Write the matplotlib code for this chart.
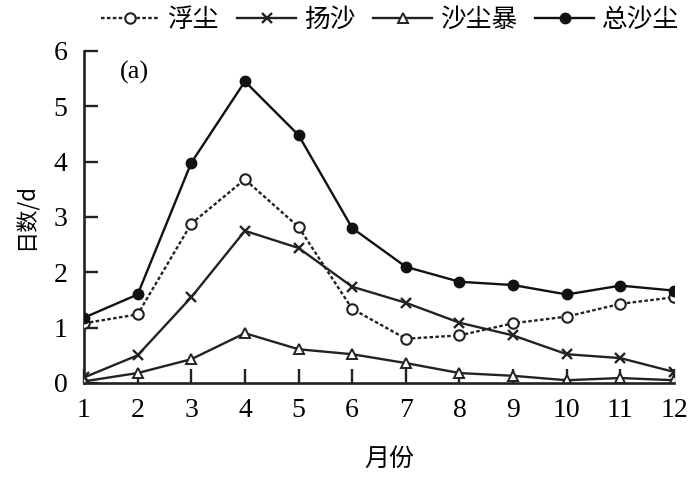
import matplotlib
matplotlib.use("Agg")
import matplotlib.pyplot as plt

months = [1, 2, 3, 4, 5, 6, 7, 8, 9, 10, 11, 12]
floating_dust = [1.08, 1.24, 2.88, 3.68, 2.82, 1.34, 0.80, 0.86, 1.08, 1.20, 1.43, 1.55]
blowing_sand = [0.10, 0.50, 1.55, 2.75, 2.44, 1.74, 1.45, 1.09, 0.86, 0.52, 0.45, 0.20]
sandstorm = [0.03, 0.18, 0.43, 0.90, 0.61, 0.52, 0.36, 0.18, 0.13, 0.05, 0.09, 0.05]
total_dust = [1.18, 1.60, 3.98, 5.45, 4.48, 2.80, 2.10, 1.83, 1.77, 1.60, 1.76, 1.67]
labels = ["浮尘", "扬沙", "沙尘暴", "总沙尘"]
xticks = [1, 2, 3, 4, 5, 6, 7, 8, 9, 10, 11, 12]
yticks = [0, 1, 2, 3, 4, 5, 6]

cjk = ["Noto Sans CJK SC", "DejaVu Sans"]
serif = "Liberation Serif"

fig = plt.figure(figsize=(6.92, 4.91), dpi=100)
ax = fig.add_axes([84/692, 1 - 383/491, (674-84)/692, (383-51)/491])

lw = 1.7
ax.plot(months, floating_dust, linestyle=(0, (1.5, 1)), color="#222", lw=lw, marker="o",
        ms=7.5, mfc="white", mec="#222", mew=1.5, label=labels[0], zorder=3)
ax.plot(months, blowing_sand, linestyle="-", color="#222", lw=lw, marker="x",
        ms=7, mec="#222", mew=1.7, label=labels[1], zorder=3)
ax.plot(months, sandstorm, linestyle="-", color="#222", lw=lw, marker="^",
        ms=7, mfc="white", mec="#222", mew=1.4, label=labels[2], zorder=3)
ax.plot(months, total_dust, linestyle="-", color="#111", lw=lw, marker="o",
        ms=7.5, mfc="#111", mec="#111", label=labels[3], zorder=4)

ax.set_xlim(1, 12)
ax.set_ylim(0, 6)
ax.set_xticks(xticks)
ax.set_yticks(yticks)
ax.tick_params(direction="in", length=10, width=1.7, labelsize=20, color="#222")
ax.tick_params(axis="x", pad=11)
ax.tick_params(axis="y", pad=12)
for lab in ax.get_xticklabels() + ax.get_yticklabels():
    lab.set_fontfamily(serif)
for s in ["top", "right"]:
    ax.spines[s].set_visible(False)
for s in ["left", "bottom"]:
    ax.spines[s].set_linewidth(1.9)
    ax.spines[s].set_color("#222")
ax.spines["bottom"].set_zorder(5)

ax.text(0.06, 0.935, "(a)", transform=ax.transAxes, fontsize=19, family=serif,
        ha="left", va="center")

ax.set_xlabel("月份", family=cjk, fontsize=18)
ax.xaxis.set_label_coords((389-84)/590, -(446-383)/332)
ax.set_ylabel("日数/d", family=cjk, fontsize=16)
ax.yaxis.set_label_coords(-(84-38)/590, 0.5)

leg = fig.legend(loc="center", bbox_to_anchor=(390/692, 1 - 20/491), ncol=4,
                 frameon=False, prop={"family": cjk, "size": 18.5},
                 handlelength=2.3, handletextpad=0.3, columnspacing=0.7,
                 borderaxespad=0)

fig.savefig("out.png", dpi=100)
